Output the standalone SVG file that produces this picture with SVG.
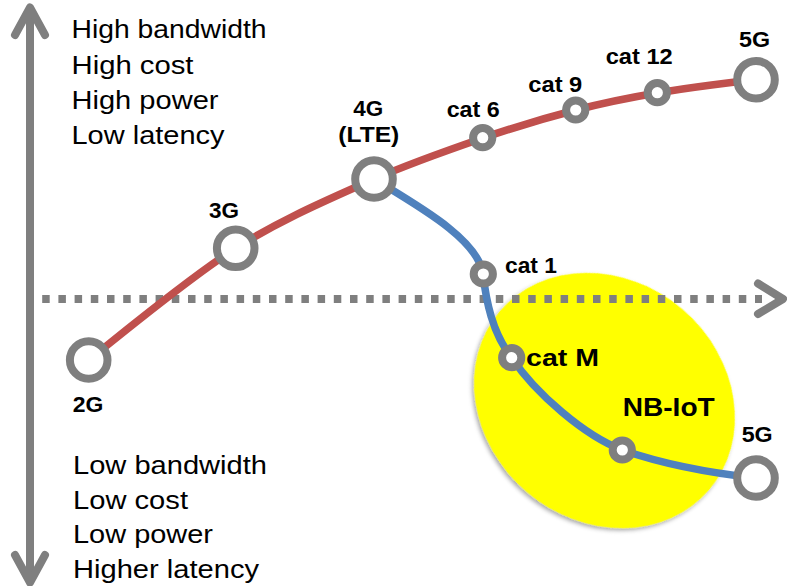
<svg xmlns="http://www.w3.org/2000/svg" width="787" height="586" viewBox="0 0 787 586">
  <defs>
    <filter id="soft-shadow" x="-10%" y="-10%" width="120%" height="125%">
      <feDropShadow dx="0" dy="3" stdDeviation="2" flood-color="#000" flood-opacity="0.35"/>
    </filter>
    <style>
      .axis { fill: none; stroke: #7f7f7f; stroke-width: 8; stroke-linecap: round; stroke-linejoin: round; }
      .dash { fill: none; stroke: #7f7f7f; stroke-width: 8; stroke-dasharray: 7.5 8.7; }
      .red { fill: none; stroke: #c0504d; stroke-width: 7.5; }
      .blue { fill: none; stroke: #4f81bd; stroke-width: 7.5; }
      .big { fill: #fff; stroke: #7f7f7f; stroke-width: 8; }
      .small { fill: #fff; stroke: #7f7f7f; stroke-width: 8; }
      .note { font-family: "Liberation Sans", Arial, sans-serif; font-size: 25px; fill: #000; }
      .lbl { font-family: "Liberation Sans", Arial, sans-serif; font-size: 22.5px; font-weight: bold; fill: #000; }
      .lbl-m { font-size: 24.5px; }
      .lbl-l { font-size: 26.5px; }
    </style>
  </defs>

  <rect width="787" height="586" fill="#fff"/>

  <!-- highlighted low-power region -->
  <ellipse id="iot-zone" cx="604.5" cy="400.5" rx="137.5" ry="120" transform="rotate(40.5 604.5 400.5)" fill="#ffff00" filter="url(#soft-shadow)"/>

  <!-- axes -->
  <g id="axes">
    <line class="axis" x1="30" y1="10" x2="30" y2="580"/>
    <polyline class="axis" points="15,35 30,7.5 45,35"/>
    <polyline class="axis" points="15,555 30,582.5 45,555"/>
    <line class="dash" x1="26" y1="299" x2="762" y2="299"/>
    <polyline class="axis" points="758,283.5 783,299 758,314"/>
  </g>

  <!-- axis notes -->
  <g id="notes">
    <text class="note" x="71.5" y="38.3" textLength="195" lengthAdjust="spacingAndGlyphs">High bandwidth</text>
    <text class="note" x="71.5" y="73.5" textLength="122" lengthAdjust="spacingAndGlyphs">High cost</text>
    <text class="note" x="71.5" y="109" textLength="147" lengthAdjust="spacingAndGlyphs">High power</text>
    <text class="note" x="71.5" y="144" textLength="153" lengthAdjust="spacingAndGlyphs">Low latency</text>
    <text class="note" x="73" y="474" textLength="194" lengthAdjust="spacingAndGlyphs">Low bandwidth</text>
    <text class="note" x="73" y="508.5" textLength="115" lengthAdjust="spacingAndGlyphs">Low cost</text>
    <text class="note" x="73" y="543" textLength="140" lengthAdjust="spacingAndGlyphs">Low power</text>
    <text class="note" x="73" y="578" textLength="186" lengthAdjust="spacingAndGlyphs">Higher latency</text>
  </g>

  <!-- connectors -->
  <g id="connectors">
    <path id="path-main" class="red" d="M88.7,360 C113,341 188.5,278 235.7,248.3 C283.5,218 332,198 374,179 C414,161.7 449,149.7 483,138 C517,126.3 547,117.5 576,110 C605,102.5 627,98 657,93 C687,87.8 739.5,81.3 756,79.7"/>
    <path id="path-iot" class="blue" d="M374,179 C418,206 478,239 483,274 C486,300 492,333 512,358 C535,393 585,436 622.3,450 C660,463 710,473 756,478"/>
  </g>

  <!-- nodes -->
  <g id="node-2g">
    <circle class="big" cx="88.7" cy="360" r="18.8"/>
    <text class="lbl" x="72.7" y="411.7" textLength="30.6" lengthAdjust="spacingAndGlyphs">2G</text>
  </g>
  <g id="node-3g">
    <circle class="big" cx="235.7" cy="248.3" r="18.8"/>
    <text class="lbl" x="209" y="218" textLength="30" lengthAdjust="spacingAndGlyphs">3G</text>
  </g>
  <g id="node-4g">
    <circle class="big" cx="374" cy="179" r="18.8"/>
    <text class="lbl" x="353.3" y="116" textLength="30" lengthAdjust="spacingAndGlyphs">4G</text>
    <text class="lbl" x="338.3" y="142" textLength="61" lengthAdjust="spacingAndGlyphs">(LTE)</text>
  </g>
  <g id="node-cat6">
    <circle class="small" cx="482.7" cy="137.7" r="9.6"/>
    <text class="lbl" x="446.7" y="117" textLength="53" lengthAdjust="spacingAndGlyphs">cat 6</text>
  </g>
  <g id="node-cat9">
    <circle class="small" cx="575.7" cy="110" r="9.6"/>
    <text class="lbl" x="528.3" y="91.7" textLength="54" lengthAdjust="spacingAndGlyphs">cat 9</text>
  </g>
  <g id="node-cat12">
    <circle class="small" cx="657.3" cy="92.7" r="9.6"/>
    <text class="lbl" x="605.7" y="64.3" textLength="67" lengthAdjust="spacingAndGlyphs">cat 12</text>
  </g>
  <g id="node-5g-top">
    <circle class="big" cx="756" cy="79.7" r="18.8"/>
    <text class="lbl" x="739" y="46.7" textLength="31" lengthAdjust="spacingAndGlyphs">5G</text>
  </g>
  <g id="node-cat1">
    <circle class="small" cx="483.3" cy="274" r="9.6"/>
    <text class="lbl" x="505" y="272.7" textLength="52" lengthAdjust="spacingAndGlyphs">cat 1</text>
  </g>
  <g id="node-catm">
    <circle class="small" cx="511.7" cy="357.7" r="9.6"/>
    <text class="lbl lbl-m" x="526" y="366" textLength="73" lengthAdjust="spacingAndGlyphs">cat M</text>
  </g>
  <g id="node-nbiot">
    <circle class="small" cx="622.3" cy="450" r="9.6"/>
    <text class="lbl lbl-l" x="622.7" y="415.7" textLength="92" lengthAdjust="spacingAndGlyphs">NB-IoT</text>
  </g>
  <g id="node-5g-bottom">
    <circle class="big" cx="756" cy="478" r="18.8"/>
    <text class="lbl" x="741.7" y="442.3" textLength="31" lengthAdjust="spacingAndGlyphs">5G</text>
  </g>
</svg>
